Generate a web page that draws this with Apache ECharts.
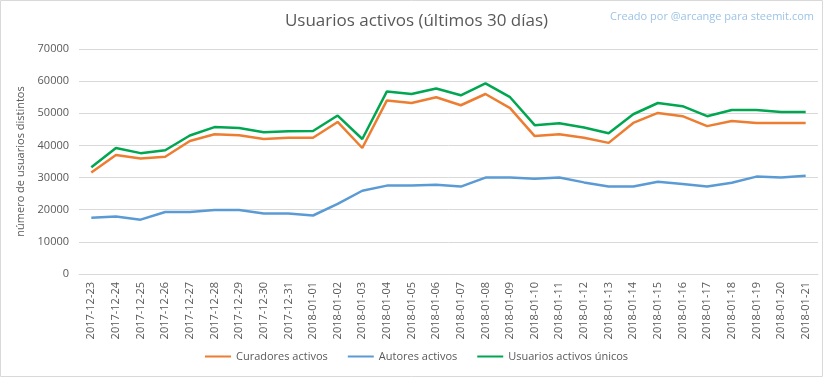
<!DOCTYPE html>
<html><head><meta charset="utf-8">
<script src="https://cdn.jsdelivr.net/npm/echarts@6/dist/echarts.min.js"></script>
<style>html,body{margin:0;padding:0;background:#fff}#c{width:833px;height:379px}</style>
</head><body><div id="c"></div>
<script>
const categories = ["2017-12-23","2017-12-24","2017-12-25","2017-12-26","2017-12-27","2017-12-28","2017-12-29","2017-12-30","2017-12-31","2018-01-01","2018-01-02","2018-01-03","2018-01-04","2018-01-05","2018-01-06","2018-01-07","2018-01-08","2018-01-09","2018-01-10","2018-01-11","2018-01-12","2018-01-13","2018-01-14","2018-01-15","2018-01-16","2018-01-17","2018-01-18","2018-01-19","2018-01-20","2018-01-21"];
const curadores = [31600,37000,35900,36500,41400,43500,43200,42000,42400,42400,47300,39200,54000,53200,55000,52500,56000,51600,42900,43500,42400,40800,47000,50100,49100,46000,47600,47000,47000,47000];
const autores = [17500,17900,16900,19300,19300,19900,19900,18800,18800,18200,21800,25900,27500,27500,27800,27200,30000,30000,29600,30000,28500,27200,27200,28700,28000,27200,28400,30300,30000,30600];
const unicos = [33200,39200,37600,38500,43100,45700,45400,44100,44400,44500,49300,42000,56800,56000,57700,55600,59300,55000,46300,46900,45600,43800,49700,53200,52200,49100,51000,51000,50400,50400];
const yTicks = [0,10000,20000,30000,40000,50000,60000,70000];

const chart = echarts.init(document.getElementById('c'), null, {renderer:'canvas'});
const font = 'Open Sans';
chart.setOption({
  animation:false,
  title:[{text:'Usuarios activos (últimos 30 días)', left:'center', top:8,
    textStyle:{fontFamily:font, fontSize:17, fontWeight:'normal', color:'#595959'}},
    {text:'Creado por @arcange para steemit.com', right:14, top:6,
    textStyle:{fontFamily:font, fontSize:11, fontWeight:'normal', color:'#9DC3E6'}}],
  graphic:[{type:'rect', shape:{x:0.5,y:0.5,width:822,height:376}, style:{fill:null, stroke:'#d9d9d9', lineWidth:1}, silent:true}],
  grid:{left:79, right:15, top:49, bottom:105},
  legend:{bottom:12, left:'center', itemWidth:26, itemHeight:2, itemGap:20, icon:'rect',
    textStyle:{fontFamily:font, fontSize:11, color:'#595959'},
    data:['Curadores activos','Autores activos','Usuarios activos únicos']},
  xAxis:{type:'category', data:categories, boundaryGap:true,
    axisLine:{lineStyle:{color:'#d9d9d9'}}, axisTick:{show:false},
    axisLabel:{rotate:90, interval:0, fontFamily:font, fontSize:11, color:'#595959', margin:8}},
  yAxis:{type:'value', min:yTicks[0], max:yTicks[yTicks.length-1], interval:10000,
    name:'número de usuarios distintos', nameLocation:'middle', nameGap:52,
    nameTextStyle:{fontFamily:font, fontSize:11, color:'#595959'},
    axisLine:{show:false}, axisTick:{show:false},
    axisLabel:{fontFamily:font, fontSize:11, color:'#595959', margin:10, formatter:(v)=>String(v)},
    splitLine:{lineStyle:{color:'#d9d9d9'}}},
  series:[
    {name:'Curadores activos', type:'line', data:curadores, symbol:'none', lineStyle:{width:2.5, color:'#ED7D31'}, itemStyle:{color:'#ED7D31'}},
    {name:'Autores activos', type:'line', data:autores, symbol:'none', lineStyle:{width:2.5, color:'#5B9BD5'}, itemStyle:{color:'#5B9BD5'}},
    {name:'Usuarios activos únicos', type:'line', data:unicos, symbol:'none', lineStyle:{width:2.5, color:'#00A650'}, itemStyle:{color:'#00A650'}}
  ]
});
</script></body></html>
